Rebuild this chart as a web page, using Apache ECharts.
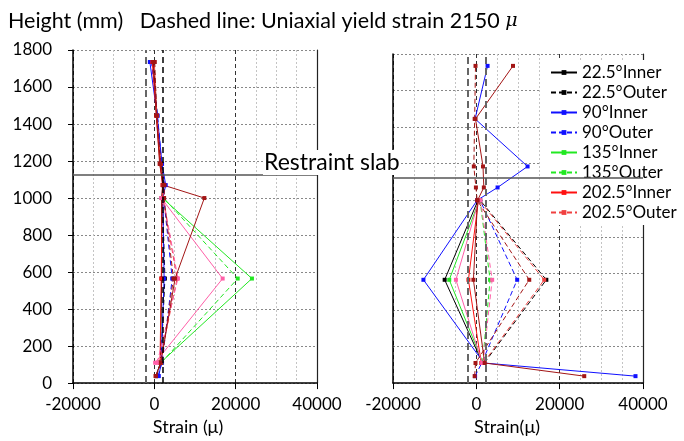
<!DOCTYPE html>
<html>
<head>
<meta charset="utf-8">
<script src="https://cdn.jsdelivr.net/npm/echarts@6/dist/echarts.min.js"></script>
<style>
  html, body { margin: 0; padding: 0; background: #fff; }
  #chart { width: 684px; height: 441px; }
</style>
</head>
<body>
<div id="chart"></div>
<script>
// Gauge heights (mm) at which strain was measured
const heights = [38, 110, 565, 1000, 1070, 1185, 1445, 1735];

// Uniaxial yield strain (μ) and height of the restraint slab (mm)
const yieldStrain = 2150;
const slabHeight = 1125;

// Axis ranges
const strainMin = -20000, strainMax = 40000, strainStep = 20000;
const heightMin = 0, heightMax = 1800, heightStep = 200;

// Series names (legend shows the first eight)
const seriesNames = ['22.5°Inner', '22.5°Outer', '90°Inner', '90°Outer',
  '135°Inner', '135°Outer', '202.5°Inner', '202.5°Outer',
  '270°Inner', '270°Outer', '315°Inner', '315°Outer'];
const legendNames = seriesNames.slice(0, 8);

// Left panel strains (μ), one value per height, null = no gauge
const left225Inner = [400, 1500, 1800, 1800, 2100, 1500, 600, -300];
const left225Outer = [500, 1600, 2600, 2000, 2300, 1700, 700, -200];
const left90Inner  = [1100, 1700, 2400, 2100, 2800, 1900, 700, -1100];
const left90Outer  = [900, 1900, 4400, 2300, 2500, 1800, 800, -700];
const left135Inner = [null, 1500, 24000, 2000, null, null, null, null];
const left135Outer = [null, 1700, 20500, 2300, null, null, null, null];
const left2025Inner = [null, 1400, 1700, 1900, 2000, 1400, 500, -500];
const left2025Outer = [null, 1300, 5600, 2100, 2200, 1600, 600, 0];
const left270Inner = [null, 200, 16800, 1700, null, null, null, null];
const left270Outer = [null, 700, 5800, 2200, null, null, null, null];
const left315Inner = [300, 1600, 5100, 12300, 2200, 1300, 500, -300];
const left315Outer = [400, 1700, 4700, 2400, 2500, 1600, 600, 100];

// Right panel strains (μ)
const right225Inner = [null, 1500, -7600, 400, null, null, null, null];
const right225Outer = [null, 1900, 16800, 900, null, null, null, null];
const right90Inner  = [38200, 1800, -12700, 200, 5100, 12300, -300, 2700];
const right90Outer  = [-300, 1300, 9800, 900, null, null, null, null];
const right135Inner = [null, 1600, -6500, 700, null, null, null, null];
const right135Outer = [null, 1500, 3300, 900, null, null, null, null];
const right2025Inner = [null, 1200, -1900, 500, null, null, null, null];
const right2025Outer = [null, 1700, 16300, 700, null, null, null, null];
const right270Inner = [null, 1400, -4900, 600, null, null, null, null];
const right270Outer = [null, 1600, 3800, 1000, null, null, null, null];
const right315Inner = [25900, 2000, -700, 300, 1800, 1600, -200, 8800];
const right315Outer = [-400, -200, 12700, 200, -100, -600, -400, -200];

const leftValues = [left225Inner, left225Outer, left90Inner, left90Outer,
  left135Inner, left135Outer, left2025Inner, left2025Outer,
  left270Inner, left270Outer, left315Inner, left315Outer];
const rightValues = [right225Inner, right225Outer, right90Inner, right90Outer,
  right135Inner, right135Outer, right2025Inner, right2025Outer,
  right270Inner, right270Outer, right315Inner, right315Outer];

// Line colours and dash flags, in series order
const lineColors = ['#000000', '#000000', '#1010ff', '#1010ff',
  '#22e822', '#22e822', '#ff1010', '#f04040',
  '#ff5fa8', '#ff5fa8', '#a31515', '#a31515'];
const isOuter = (name) => name.indexOf('Outer') >= 0;

const FONT = 'Lato';
const plain = (v) => String(v);

function panelSeries(panel, values) {
  return seriesNames.map((name, i) => {
    const pts = [];
    heights.forEach((h, k) => {
      if (values[i][k] !== null) pts.push([values[i][k], h]);
    });
    return {
      type: 'line',
      name: name,
      xAxisIndex: panel,
      yAxisIndex: panel * 2,
      data: pts,
      symbol: 'rect',
      symbolSize: 4,
      showSymbol: true,
      lineStyle: { color: lineColors[i], width: 1, type: isOuter(name) ? [5, 3] : 'solid' },
      itemStyle: { color: lineColors[i] },
      emphasis: { disabled: true },
      animation: false
    };
  });
}

// Reference lines: yield strain (±) and restraint slab level
function refLines(panel) {
  const grayDash = { color: '#666', width: 2, type: [7, 4] };
  const blackDash = { color: '#000', width: 1.5, type: [6, 4] };
  return {
    type: 'line',
    name: 'ref' + panel,
    xAxisIndex: panel,
    yAxisIndex: panel * 2,
    data: [],
    silent: true,
    animation: false,
    markLine: {
      silent: true,
      symbol: 'none',
      animation: false,
      label: { show: false },
      emphasis: { disabled: true },
      data: [
        { xAxis: -yieldStrain, lineStyle: grayDash },
        { xAxis: yieldStrain, lineStyle: panel === 0 ? blackDash : grayDash },
        { yAxis: slabHeight, lineStyle: { color: '#555', width: 1.5, type: 'solid' } }
      ]
    }
  };
}

function xAxisFor(panel, title, pad) {
  return {
    type: 'value',
    gridIndex: panel,
    min: strainMin, max: strainMax, interval: strainStep,
    name: title,
    nameLocation: 'middle',
    nameGap: 28,
    nameTextStyle: { fontFamily: FONT, fontSize: 18, color: '#000', padding: [0, pad, 0, 0] },
    axisLine: { show: true, onZero: false, lineStyle: { color: '#000', width: 1.5 } },
    axisTick: { show: true, inside: false, length: 6, lineStyle: { color: '#000', width: 1 } },
    axisLabel: { fontFamily: FONT, fontSize: 17, color: '#000', margin: 13, formatter: plain },
    splitLine: { show: true, lineStyle: { color: '#333', width: 1, type: [4, 3] } },
    minorTick: { show: false, splitNumber: 4 },
    minorSplitLine: { show: true, lineStyle: { color: '#c4c4c4', width: 1, type: [2, 2] } }
  };
}

function yAxesFor(panel) {
  return [
    {
      type: 'value',
      gridIndex: panel,
      min: heightMin, max: heightMax, interval: heightStep,
      axisLine: { show: true, onZero: false, lineStyle: { color: '#000', width: 1.5 } },
      axisTick: { show: panel === 0, inside: false, length: 5, lineStyle: { color: '#000' } },
      axisLabel: { show: panel === 0, fontFamily: FONT, fontSize: 17, color: '#000', margin: 21, formatter: plain },
      splitLine: { show: true, lineStyle: { color: '#888', width: 1, type: [2, 2] } }
    },
    {
      type: 'value',
      gridIndex: panel,
      position: 'right',
      min: heightMin, max: heightMax, interval: heightStep,
      axisLine: { show: true, onZero: false, lineStyle: { color: '#222', width: 1.2 } },
      axisTick: { show: false },
      axisLabel: { show: false },
      splitLine: { show: false }
    }
  ];
}

const chart = echarts.init(document.getElementById('chart'), null, { renderer: 'canvas' });

chart.setOption({
  animation: false,
  backgroundColor: '#fff',
  textStyle: { fontFamily: FONT },
  grid: [
    { left: 73, top: 50, width: 244, height: 339 },
    { left: 393, top: 54, width: 250, height: 337 }
  ],
  xAxis: [xAxisFor(0, 'Strain (μ)', 14), xAxisFor(1, 'Strain(μ)', 22)],
  yAxis: yAxesFor(0).concat(yAxesFor(1)),
  legend: {
    data: legendNames,
    orient: 'vertical',
    left: 541,
    top: 60,
    padding: [4, 8, 4, 9],
    backgroundColor: '#fff',
    itemWidth: 26,
    itemHeight: 6,
    itemGap: 3,
    selectedMode: false,
    textStyle: { fontFamily: FONT, fontSize: 17, lineHeight: 17, color: '#000' }
  },
  graphic: [
    {
      type: 'text',
      left: 8,
      top: 10,
      style: {
        text: 'Height (mm)   Dashed line: Uniaxial yield strain 2150 {mu|μ}',
        font: '21.5px Lato',
        fill: '#000',
        rich: {
          mu: { fontFamily: 'DejaVu Serif', fontStyle: 'italic', fontSize: 19, fill: '#000' }
        }
      }
    },
    {
      type: 'text',
      left: 263,
      top: 150,
      z: 100,
      style: {
        text: 'Restraint slab',
        font: '23px Lato',
        fill: '#000',
        backgroundColor: '#fff',
        padding: [1, 1, 1, 1]
      }
    }
  ],
  series: panelSeries(0, leftValues).concat([refLines(0)])
    .concat(panelSeries(1, rightValues)).concat([refLines(1)])
});
</script>
</body>
</html>
